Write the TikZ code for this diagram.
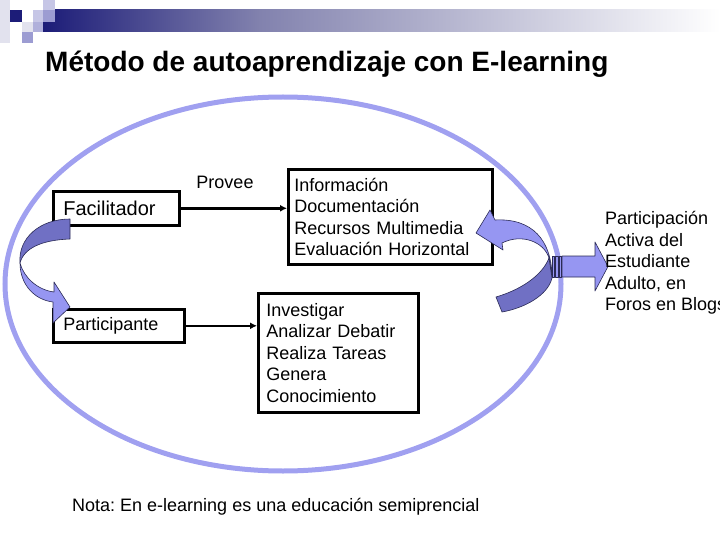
\documentclass[tikz,border=0pt]{standalone}
\usepackage{fontspec}
\setmainfont{Liberation Sans}
\usepackage{tikz}
\usetikzlibrary{arrows.meta,positioning}
\definecolor{navy}{HTML}{1C1C78}
\definecolor{barmid}{HTML}{8282AE}
\definecolor{sqlight}{HTML}{E2E2EE}
\definecolor{sqlav}{HTML}{C6C6E6}
\definecolor{sqmid}{HTML}{9C9CD2}
\definecolor{ringblue}{HTML}{A0A0F0}
\definecolor{bandlight}{HTML}{9696F2}
\definecolor{banddark}{HTML}{7070C4}
\definecolor{bandline}{HTML}{2A2A55}
\newcommand{\txtsize}{\fontsize{18}{21.5}\selectfont}
\frenchspacing

\begin{document}
\begin{tikzpicture}[
  x=1pt,y=-1pt,
  box/.style={draw=black,line width=2.6pt,fill=white,anchor=north west,align=left,inner ysep=0pt,font=\txtsize},
  arr/.style={-{Latex[length=7pt,width=7pt]},line width=2.6pt,draw=black},
  ring/.style={draw=ringblue,line width=5pt},
  bandl/.style={fill=bandlight,draw=bandline,line width=0.6pt,line join=round},
  bandd/.style={fill=banddark,draw=bandline,line width=0.6pt,line join=round},
  plain/.style={font=\txtsize,inner sep=0pt}
]
\clip (0,0) rectangle (720,540);
% header bar
\shade[left color=navy,right color=barmid] (43,10) rectangle (260,32);
\shade[left color=barmid,right color=white] (260,10) rectangle (720,32);
\fill[sqlight] (0,0) rectangle (10,43);
\fill[navy] (10,10) rectangle (22,22);
\fill[white] (22,10) rectangle (33,22);
\fill[sqlav] (33,10) rectangle (43,22);
\fill[sqlav] (43,0) rectangle (55,10);
\fill[sqmid] (43,10) rectangle (55,22);
\fill[sqlight] (22,22) rectangle (33,32);
\fill[sqmid!80!white] (33,22) rectangle (43,32);
\fill[sqmid] (22,32) rectangle (33,43);
\node[font=\fontsize{28}{34}\selectfont\bfseries,inner sep=0pt,anchor=base west] (title) at (45,72) {Método de autoaprendizaje con E-learning};

\draw[ring] (283,284) ellipse [x radius=278pt,y radius=187pt];

\node[box,font=\fontsize{20}{24}\selectfont,inner xsep=10pt,text width=106pt,minimum height=34pt] (fac) at (52,190) {Facilitador};
\node[box,inner xsep=10pt,text width=111pt,minimum height=33pt] (par) at (52,308) {Participante};
\node[box,inner xsep=6pt,text width=192pt,minimum height=95pt] (info) at (287,168) {Información\\Documentación\\Recursos Multimedia\\Evaluación Horizontal};
\node[box,inner xsep=8pt,text width=144pt,minimum height=119pt] (inv) at (257,292) {Investigar\\Analizar Debatir\\Realiza Tareas\\Genera\\Conocimiento};
\node[plain] (provee) at (225,182) {Provee};
\draw[arr] (fac.east) -- (fac.east -| info.west);
\draw[arr] (par.east) -- (par.east -| inv.west);

% curved arrow, left
\filldraw[bandd] (70,219) .. controls (40,219) and (18,238) .. (20,263) .. controls (24,248) and (42,240) .. (70,239) -- cycle;
\filldraw[bandl] (20,263) .. controls (20,285) and (35,300) .. (53,302) -- (53,323) -- (70,307) -- (54,282) -- (54,292) .. controls (38,290) and (24,278) .. (20,263) -- cycle;

% curved arrow, right
\filldraw[bandl] (495,220) -- (490,210) -- (476,233) -- (503,250) -- (502,243) .. controls (522,233) and (544,242) .. (549,258) -- (552,278) .. controls (552,240) and (532,218) .. (495,220) -- cycle;
\filldraw[bandd] (549,258) -- (552,278) .. controls (548,295) and (525,308) .. (502,312) -- (496,297) .. controls (520,290) and (542,276) .. (549,258) -- cycle;
\filldraw[bandl] (552,256) rectangle (554.5,277);
\filldraw[bandl] (555.5,256) rectangle (558,277);
\filldraw[bandl] (559,256) rectangle (561.5,277);
\filldraw[bandl] (562,256) -- (595,256) -- (595,242) -- (608,266.5) -- (595,291) -- (595,277) -- (562,277) -- cycle;

\node[plain,align=left,anchor=west] (blog) at (605,263) {Participación\\Activa del\\Estudiante\\Adulto, en\\Foros en Blogs};
\node[plain,anchor=base west] (nota) at (72,511) {Nota: En e-learning es una educación semiprencial};
\end{tikzpicture}
\end{document}
